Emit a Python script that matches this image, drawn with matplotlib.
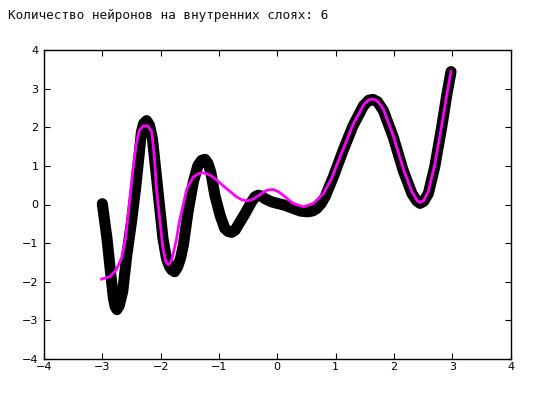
import matplotlib
matplotlib.use("Agg")
import matplotlib.pyplot as plt

title_text = "Количество нейронов на внутренних слоях: 6"

# target data (black thick curve)
target_x = [-3.00, -2.92, -2.86, -2.81, -2.78, -2.75, -2.71, -2.65, -2.58, -2.50, -2.43, -2.37,
            -2.33, -2.29, -2.24, -2.19, -2.14, -2.08, -2.02, -1.96, -1.90, -1.85, -1.81, -1.76,
            -1.71, -1.66, -1.61, -1.53, -1.44, -1.36, -1.30, -1.24, -1.19, -1.14, -1.07, -0.98,
            -0.90, -0.84, -0.78, -0.72, -0.67, -0.55, -0.44, -0.38, -0.33, -0.27, -0.21, -0.10,
            0.00, 0.13, 0.27, 0.40, 0.53, 0.62, 0.68, 0.75, 0.82, 0.96, 1.13, 1.30,
            1.48, 1.57, 1.64, 1.72, 1.82, 1.99, 2.16, 2.31, 2.40, 2.45, 2.51, 2.59,
            2.70, 2.82, 2.91, 2.98]
target_y = [0.02, -0.88, -1.74, -2.42, -2.64, -2.72, -2.62, -2.25, -1.31, -0.45, 0.41, 1.27,
            1.87, 2.10, 2.17, 2.05, 1.70, 0.84, -0.02, -0.88, -1.39, -1.60, -1.69, -1.74,
            -1.62, -1.40, -1.05, -0.19, 0.58, 1.01, 1.14, 1.17, 1.07, 0.84, 0.24, -0.28,
            -0.62, -0.70, -0.72, -0.66, -0.53, -0.23, 0.07, 0.20, 0.24, 0.22, 0.15, 0.07,
            0.03, -0.02, -0.10, -0.17, -0.19, -0.16, -0.10, 0.02, 0.20, 0.71, 1.40, 2.04,
            2.56, 2.70, 2.72, 2.66, 2.43, 1.74, 0.88, 0.28, 0.08, 0.03, 0.08, 0.28,
            0.97, 2.00, 2.86, 3.44]

# network prediction (magenta line)
pred_x = [-3.01, -2.87, -2.76, -2.67, -2.60, -2.54, -2.48, -2.42, -2.37, -2.30, -2.22, -2.15,
          -2.11, -2.07, -2.01, -1.96, -1.91, -1.87, -1.84, -1.81, -1.73, -1.68, -1.64, -1.55,
          -1.44, -1.35, -1.27, -1.18, -1.10, -0.90, -0.70, -0.60, -0.52, -0.44, -0.35, -0.18,
          -0.07, 0.02, 0.10, 0.27, 0.45, 0.62, 0.79, 0.93, 1.13, 1.30, 1.48, 1.57,
          1.64, 1.72, 1.82, 1.99, 2.16, 2.31, 2.40, 2.45, 2.51, 2.59, 2.70, 2.82,
          2.91, 2.98]
pred_y = [-1.93, -1.87, -1.69, -1.39, -0.88, -0.02, 0.84, 1.53, 1.91, 2.03, 2.04, 1.87,
          1.27, 0.41, -0.45, -1.13, -1.48, -1.56, -1.52, -1.44, -0.92, -0.45, -0.19, 0.41,
          0.71, 0.80, 0.82, 0.78, 0.71, 0.45, 0.20, 0.12, 0.09, 0.12, 0.20, 0.37,
          0.39, 0.33, 0.24, 0.03, -0.06, 0.03, 0.28, 0.67, 1.43, 2.07, 2.58, 2.71,
          2.73, 2.68, 2.47, 1.78, 0.93, 0.33, 0.10, 0.05, 0.10, 0.33, 1.02, 2.04,
          2.86, 3.44]

xticks = [-4, -3, -2, -1, 0, 1, 2, 3, 4]
yticks = [-4, -3, -2, -1, 0, 1, 2, 3, 4]

fig = plt.figure(figsize=(5.36, 3.99), dpi=100)
ax = fig.add_axes([44 / 536, 1 - 359 / 399, (510.5 - 44) / 536, (359 - 50) / 399])

ax.plot(target_x, target_y, color="black", lw=8.0, solid_capstyle="round",
        solid_joinstyle="round", zorder=2)
ax.plot(pred_x, pred_y, color="#ff00ff", lw=2.0, solid_joinstyle="round", zorder=3)

ax.set_xlim(-4, 4)
ax.set_ylim(-4, 4)
ax.set_xticks(xticks)
ax.set_yticks(yticks)
ax.tick_params(direction="in", top=True, right=True, length=4.5, width=0.8,
               labelsize=8, colors="black")
ax.tick_params(axis="x", pad=2.5)
ax.tick_params(axis="y", pad=4)
for s in ax.spines.values():
    s.set_linewidth(1.0)

fig.text(8 / 536, 1 - 19 / 399, title_text, family="DejaVu Sans Mono", fontsize=9.2,
         va="baseline", ha="left", color="#111111")

fig.savefig("out.png", dpi=100)
